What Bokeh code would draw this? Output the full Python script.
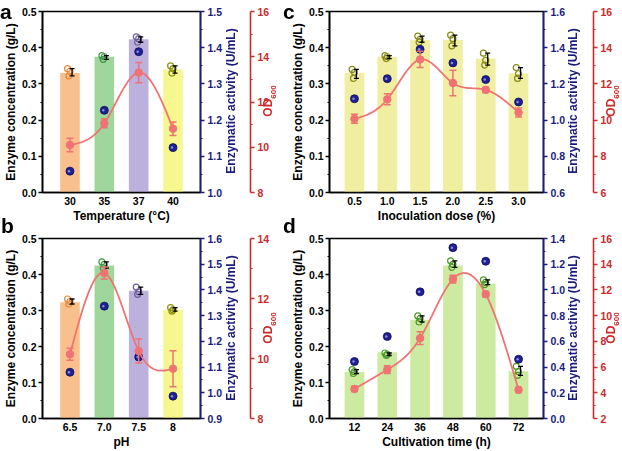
import numpy as np
from bokeh.plotting import figure
from bokeh.layouts import column, row
from bokeh.models import Range1d, LinearAxis, FixedTicker, PrintfTickFormatter, Div
from bokeh.embed import file_html
from bokeh.resources import INLINE

# ---------------- data ----------------
temp_labels = ["30", "35", "37", "40"]
temp_conc = [0.330, 0.375, 0.423, 0.340]
temp_reps = [[0.342, 0.335, 0.322], [0.378, 0.375, 0.368], [0.430, 0.425, 0.415], [0.350, 0.342, 0.330]]
temp_act = [1.059, 1.227, 1.389, 1.124]
temp_od = [10.10, 11.06, 13.30, 10.82]
temp_od_err = [0.30, 0.20, 0.45, 0.30]

ph_labels = ["6.5", "7.0", "7.5", "8"]
ph_conc = [0.323, 0.425, 0.355, 0.302]
ph_reps = [[0.332, 0.325, 0.318], [0.435, 0.428, 0.418], [0.365, 0.352, 0.345], [0.308, 0.302, 0.298]]
ph_act = [1.080, 1.337, 1.139, 0.987]
ph_od = [10.14, 12.85, 10.25, 9.66]
ph_od_err = [0.20, 0.20, 0.40, 0.60]

dose_labels = ["0.5", "1.0", "1.5", "2.0", "2.5", "3.0"]
dose_conc = [0.330, 0.375, 0.421, 0.421, 0.370, 0.329]
dose_reps = [[0.340, 0.332, 0.315], [0.378, 0.375, 0.370], [0.432, 0.423, 0.415],
             [0.435, 0.425, 0.405], [0.385, 0.365, 0.352], [0.345, 0.328, 0.315]]
dose_act = [1.118, 1.229, 1.391, 1.316, 1.224, 1.100]
dose_od = [10.07, 11.15, 13.35, 12.05, 11.67, 10.42]
dose_od_err = [0.25, 0.30, 0.45, 0.70, 0.15, 0.25]

time_labels = ["12", "24", "36", "48", "60", "72"]
time_conc = [0.129, 0.184, 0.274, 0.425, 0.375, 0.131]
time_reps = [[0.136, 0.130, 0.125], [0.182, 0.178, 0.175], [0.285, 0.278, 0.268],
             [0.438, 0.428, 0.420], [0.385, 0.378, 0.372], [0.145, 0.130, 0.120]]
time_act = [0.443, 0.638, 0.985, 1.329, 1.223, 0.461]
time_od = [4.30, 5.80, 8.25, 12.84, 11.67, 4.23]
time_od_err = [0.20, 0.30, 0.50, 0.30, 0.20, 0.20]

ACT_LABEL = "Enzymatic activity (U/mL)"
OD_LABEL = "OD<sub style='font-size:8px'>600</sub>"

# ---------------- style ----------------
FONT = "Liberation Sans"
NAVY = "#1c1c7c"
RED = "#cc2b2b"
LINE_RED = "#f07373"
BAR_MIX = ["#f9c08e", "#9fd69b", "#bbb1dc", "#f6f78e"]
PT_MIX = ["#e8893a", "#3c9a45", "#6e5f9a", "#8f8f10"]


def spline(x, y, n=160):
    x = np.asarray(x, float)
    y = np.asarray(y, float)
    m = len(x)
    h = np.diff(x)
    A = np.zeros((m, m))
    r = np.zeros(m)
    A[0, 0] = A[-1, -1] = 1
    for i in range(1, m - 1):
        A[i, i - 1] = h[i - 1]
        A[i, i] = 2 * (h[i - 1] + h[i])
        A[i, i + 1] = h[i]
        r[i] = 3 * ((y[i + 1] - y[i]) / h[i] - (y[i] - y[i - 1]) / h[i - 1])
    c = np.linalg.solve(A, r)
    b = (y[1:] - y[:-1]) / h - h * (2 * c[:-1] + c[1:]) / 3
    d = (c[1:] - c[:-1]) / (3 * h)
    xs = np.linspace(x[0], x[-1], n)
    idx = np.clip(np.searchsorted(x, xs) - 1, 0, m - 2)
    dx = xs - x[idx]
    ys = y[idx] + b[idx] * dx + c[idx] * dx ** 2 + d[idx] * dx ** 3
    return xs, ys


def style_axis(ax, color, label):
    ax.axis_label = label
    ax.axis_label_text_font = FONT
    ax.axis_label_text_font_size = "12px"
    ax.axis_label_text_font_style = "bold"
    ax.axis_label_text_color = color
    ax.major_label_text_font = FONT
    ax.major_label_text_font_size = "10.5px"
    ax.major_label_text_font_style = "bold"
    ax.major_label_text_color = color
    ax.axis_line_color = color
    ax.axis_line_width = 1.6
    ax.major_tick_line_color = color
    ax.minor_tick_line_color = color
    ax.major_tick_line_width = 1.4
    ax.minor_tick_line_width = 1.2
    ax.major_tick_in = 0
    ax.major_tick_out = 4
    ax.minor_tick_in = 0
    ax.minor_tick_out = 2
    ax.major_label_standoff = 3


def frange(lo, hi, step):
    k = int(round((hi - lo) / step))
    return [round(lo + i * step, 4) for i in range(k + 1)]


def make_panel(labels, conc, reps, act, od, od_err, bar_cols, pt_cols, xlabel,
               act_lo, act_hi, act_step, od_lo, od_hi,
               width, height, bl, br, bt, bb, pad, bw):
    n = len(labels)
    xs = list(range(n))
    p = figure(width=width, height=height, x_range=Range1d(-pad, n - 1 + pad),
               y_range=Range1d(0, 0.5), output_backend="svg", toolbar_location=None,
               min_border_left=bl, min_border_right=br, min_border_top=bt,
               min_border_bottom=bb)
    p.extra_y_ranges = {"act": Range1d(act_lo, act_hi), "od": Range1d(od_lo, od_hi)}
    p.xgrid.visible = False
    p.ygrid.visible = False
    p.outline_line_color = "black"
    p.outline_line_width = 1.6
    p.outline_line_alpha = 1.0

    ly = p.yaxis[0]
    ly.ticker = FixedTicker(ticks=frange(0, 0.5, 0.1), minor_ticks=frange(0.05, 0.45, 0.1))
    ly.formatter = PrintfTickFormatter(format="%.1f")
    style_axis(ly, "black", "Enzyme concentration (g/L)")
    ly.axis_label_standoff = 1
    ly.major_label_standoff = 2

    bx = p.xaxis[0]
    bx.ticker = FixedTicker(ticks=xs, minor_ticks=[])
    bx.major_label_overrides = {i: lab for i, lab in enumerate(labels)}
    style_axis(bx, "black", xlabel)
    bx.major_tick_out = 0
    bx.axis_label_standoff = 1
    bx.major_label_standoff = 4

    ra = LinearAxis(y_range_name="act",
                    ticker=FixedTicker(ticks=frange(act_lo, act_hi, act_step),
                                       minor_ticks=frange(act_lo + act_step / 2, act_hi - act_step / 2, act_step)),
                    formatter=PrintfTickFormatter(format="%.1f"))
    style_axis(ra, NAVY, " ")
    ra.axis_label_standoff = 8
    p.add_layout(ra, "right")

    od_major = list(range(int(od_lo), int(od_hi) + 1, 2))
    od_minor = list(range(int(od_lo) + 1, int(od_hi), 2))
    rb = LinearAxis(y_range_name="od", ticker=FixedTicker(ticks=od_major, minor_ticks=od_minor),
                    formatter=PrintfTickFormatter(format="%d"))
    style_axis(rb, RED, "")
    p.add_layout(rb, "right")

    p.vbar(x=xs, top=conc, width=bw, fill_color=bar_cols, line_color=None)

    offs = [-0.07, 0.0, -0.03]
    for i in range(n):
        rv = reps[i]
        p.scatter(x=[i + o for o in offs], y=rv, marker="circle", size=6,
                  fill_alpha=0.0, line_color=pt_cols[i], line_width=1.2)
        wx = i + 0.06
        p.segment(x0=[wx], y0=[min(rv)], x1=[wx], y1=[max(rv)], line_color="black", line_width=1.3)
        p.scatter(x=[wx, wx], y=[min(rv), max(rv)], marker="dash", size=5,
                  line_color="black", line_width=1.3)

    p.scatter(x=xs, y=act, y_range_name="act", marker="circle", size=8,
              fill_color="#1f1f96", line_color="#0e0e55", line_width=0.8)
    p.scatter(x=[i - 0.03 for i in xs], y=act, y_range_name="act", marker="circle", size=2.5,
              fill_color="#8c8cd8", line_color=None)

    sx, sy = spline(xs, od)
    p.line(x=sx, y=sy, y_range_name="od", line_color=LINE_RED, line_width=1.8)
    lo = [v - e for v, e in zip(od, od_err)]
    hi = [v + e for v, e in zip(od, od_err)]
    p.segment(x0=xs, y0=lo, x1=xs, y1=hi, y_range_name="od", line_color=LINE_RED, line_width=1.5)
    p.scatter(x=xs + xs, y=lo + hi, y_range_name="od", marker="dash", size=7,
              line_color=LINE_RED, line_width=1.5)
    p.scatter(x=xs, y=od, y_range_name="od", marker="circle", size=7.5,
              fill_color=LINE_RED, line_color=LINE_RED)
    return p


pa = make_panel(temp_labels, temp_conc, temp_reps, temp_act, temp_od, temp_od_err,
                BAR_MIX, PT_MIX, "Temperature (\u00b0C)", 1.0, 1.5, 0.1, 8, 16,
                285, 225, 38, 85, 11, 33, 0.8, 0.57)
pc = make_panel(dose_labels, dose_conc, dose_reps, dose_act, dose_od, dose_od_err,
                ["#f0eea0"] * 6, ["#8a8a1a"] * 6, "Inoculation dose (%)", 0.6, 1.6, 0.2, 6, 16,
                337, 225, 44, 79, 11, 33, 0.76, 0.6)
pb = make_panel(ph_labels, ph_conc, ph_reps, ph_act, ph_od, ph_od_err,
                BAR_MIX, PT_MIX, "pH", 0.9, 1.6, 0.1, 8, 14,
                285, 226, 38, 85, 13, 32, 0.8, 0.57)
pd_ = make_panel(time_labels, time_conc, time_reps, time_act, time_od, time_od_err,
                 ["#cdeba0"] * 6, ["#4f9a2a"] * 6, "Cultivation time (h)", 0.0, 1.4, 0.2, 2, 16,
                 337, 226, 44, 79, 13, 32, 0.76, 0.6)

# ---------------- overlay texts (panel letters, right-axis titles) ----------------
TXT = "font-family:'Liberation Sans',Arial,sans-serif;font-weight:bold;white-space:nowrap;"


def letter(x, y, t):
    return (f'<div style="position:fixed;left:{x}px;top:{y}px;{TXT}font-size:21px;'
            f'line-height:normal;color:black">{t}</div>')


def vlabel(cx, cy, t, color):
    return (f'<div style="position:fixed;left:{cx}px;top:{cy}px;{TXT}font-size:12px;line-height:14px;'
            f'color:{color};transform:translate(-50%,-50%) rotate(-90deg)">{t}</div>')


html = "".join([
    letter(0, 0, "a"), letter(283, 0, "c"), letter(1, 214, "b"), letter(283, 214, "d"),
    vlabel(231, 101, ACT_LABEL, NAVY), vlabel(271, 101, OD_LABEL, RED),
    vlabel(231, 328, ACT_LABEL, NAVY), vlabel(271, 328, OD_LABEL, RED),
    vlabel(573, 101, ACT_LABEL, NAVY), vlabel(614, 101, OD_LABEL, RED),
    vlabel(573, 328, ACT_LABEL, NAVY), vlabel(614, 328, OD_LABEL, RED),
])
overlay = Div(text=html, width=0, height=0)

layout = column(row(pa, pc), row(pb, pd_, overlay))
open("out.html", "w").write(file_html(layout, INLINE))
